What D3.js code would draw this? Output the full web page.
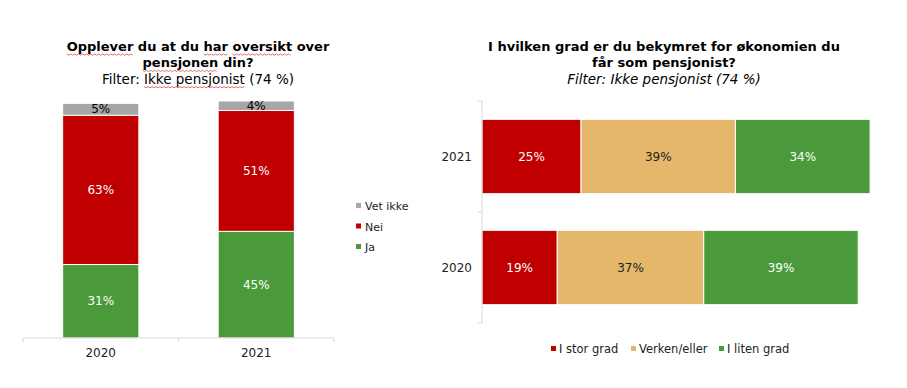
<!DOCTYPE html>
<html>
<head>
<meta charset="utf-8">
<script src="https://cdn.jsdelivr.net/npm/d3@7"></script>
<style>
  body { margin: 0; background: #fff; }
  text { font-family: "DejaVu Sans", Verdana, sans-serif; }
</style>
</head>
<body>
<svg id="graph" width="907" height="388"></svg>
<script>
// left chart: Opplever du at du har oversikt
var years1 = ["2020", "2021"];
var series1 = ["Ja", "Nei", "Vet ikke"];
var ja = [31, 45];
var nei = [63, 51];
var vetIkke = [5, 4];

// right chart: bekymret for økonomien
var years2 = ["2021", "2020"];
var series2 = ["I stor grad", "Verken/eller", "I liten grad"];
var storGrad = [25, 19];
var verken = [39, 37];
var litenGrad = [34, 39];

var colors1 = {"Ja": "#4a9a3c", "Nei": "#c00000", "Vet ikke": "#a6a6a6"};
var colors2 = {"I stor grad": "#c00000", "Verken/eller": "#e4b76b", "I liten grad": "#4a9a3c"};

var svg = d3.select("svg");

// ---- titles
function title(x, lines, squiggles) {
    lines.forEach(function(l, i) {
        var ty = 51 + i * 16.3;
        var t = svg.append("text")
            .attr("x", x)
            .attr("y", ty)
            .attr("text-anchor", "middle")
            .style("font-size", l.bold ? "13px" : "13.5px")
            .style("font-weight", l.bold ? "bold" : "normal")
            .style("font-style", l.italic ? "italic" : "normal")
            .style("fill", "#000")
            .text(l.text);
        // red spell check underline
        (squiggles && squiggles[i] || []).forEach(function(w) {
            var node = t.node();
            var idx = l.text.indexOf(w);
            var total = node.getComputedTextLength();
            var x0 = x - total / 2 + (idx > 0 ? node.getSubStringLength(0, idx) : 0);
            var wl = node.getSubStringLength(idx, w.length);
            var pts = [];
            for (var k = 0; k <= Math.floor(wl / 2); k++) {
                pts.push([x0 + k * 2, ty + 3 + (k % 2 ? 1.2 : 0)]);
            }
            svg.append("path")
                .attr("d", d3.line()(pts))
                .attr("fill", "none")
                .attr("stroke", "#e04848")
                .attr("stroke-width", 0.8);
        });
    });
}

title(198, [
    {text: "Opplever du at du har oversikt over", bold: true},
    {text: "pensjonen din?", bold: true},
    {text: "Filter: Ikke pensjonist (74 %)"}
], [["Opplever", "har", "oversikt"], ["pensjonen"], ["Ikke pensjonist"]]);

title(664, [
    {text: "I hvilken grad er du bekymret for økonomien du", bold: true},
    {text: "får som pensjonist?", bold: true},
    {text: "Filter: Ikke pensjonist (74 %)", italic: true}
]);

// ---- left chart (vertical stacked)
var rows1 = years1.map(function(y, i) {
    return {year: y, "Ja": ja[i], "Nei": nei[i], "Vet ikke": vetIkke[i]};
});
var stack1 = d3.stack().keys(series1)(rows1);

var x1 = d3.scaleBand().domain(years1).range([23, 334]).paddingInner(0.51).paddingOuter(0.255);
var y1 = d3.scaleLinear().domain([0, 100]).range([338, 101]);

svg.append("g").selectAll("g")
    .data(stack1)
    .enter().append("g")
    .attr("fill", function(d) { return colors1[d.key]; })
    .selectAll("rect")
    .data(function(d) { return d; })
    .enter().append("rect")
    .attr("x", function(d) { return x1(d.data.year); })
    .attr("y", function(d) { return y1(d[1]); })
    .attr("width", x1.bandwidth())
    .attr("height", function(d) { return y1(d[0]) - y1(d[1]); })
    .attr("stroke", "#fff")
    .attr("stroke-width", 1);

stack1.forEach(function(s) {
    svg.append("g").selectAll("text")
        .data(s)
        .enter().append("text")
        .attr("x", function(d) { return x1(d.data.year) + x1.bandwidth() / 2; })
        .attr("y", function(d) { return (y1(d[0]) + y1(d[1])) / 2 + 4; })
        .attr("text-anchor", "middle")
        .style("font-size", "12px")
        .style("fill", s.key == "Vet ikke" ? "#000" : "#fff")
        .text(function(d) { return (d[1] - d[0]) + "%"; });
});

// x axis with category separators
var ax1 = svg.append("g").attr("transform", "translate(0,338)");
ax1.append("line").attr("x1", 23).attr("x2", 334).attr("stroke", "#d9d9d9");
[23, (23 + 334) / 2, 334].forEach(function(t) {
    ax1.append("line").attr("x1", t).attr("x2", t).attr("y1", 0).attr("y2", 4).attr("stroke", "#d9d9d9");
});
ax1.selectAll("text.lab")
    .data(years1)
    .enter().append("text")
    .attr("x", function(d) { return x1(d) + x1.bandwidth() / 2; })
    .attr("y", 19)
    .attr("text-anchor", "middle")
    .style("font-size", "12px")
    .style("fill", "#222")
    .text(function(d) { return d; });

// legend (reverse order, vertical)
var leg1 = svg.append("g").selectAll("g")
    .data(series1.slice().reverse())
    .enter().append("g")
    .attr("transform", function(d, i) { return "translate(356," + (206 + i * 20.5) + ")"; });
leg1.append("rect").attr("x", 0).attr("y", -3).attr("width", 5).attr("height", 5)
    .attr("fill", function(d) { return colors1[d]; });
leg1.append("text").attr("x", 9).attr("y", 4)
    .style("font-size", "11px").style("fill", "#222")
    .text(function(d) { return d; });

// ---- right chart (horizontal stacked)
var rows2 = years2.map(function(y, i) {
    return {year: y, "I stor grad": storGrad[i], "Verken/eller": verken[i], "I liten grad": litenGrad[i]};
});
var stack2 = d3.stack().keys(series2)(rows2);

var x2 = d3.scaleLinear().domain([0, 100]).range([482, 878]);
var y2 = d3.scaleBand().domain(years2).range([101, 323]).paddingInner(0.33).paddingOuter(0.165);

svg.append("g").selectAll("g")
    .data(stack2)
    .enter().append("g")
    .attr("fill", function(d) { return colors2[d.key]; })
    .selectAll("rect")
    .data(function(d) { return d; })
    .enter().append("rect")
    .attr("x", function(d) { return x2(d[0]); })
    .attr("y", function(d) { return y2(d.data.year); })
    .attr("width", function(d) { return x2(d[1]) - x2(d[0]); })
    .attr("height", y2.bandwidth())
    .attr("stroke", "#fff")
    .attr("stroke-width", 1);

stack2.forEach(function(s) {
    svg.append("g").selectAll("text")
        .data(s)
        .enter().append("text")
        .attr("x", function(d) { return (x2(d[0]) + x2(d[1])) / 2; })
        .attr("y", function(d) { return y2(d.data.year) + y2.bandwidth() / 2 + 4; })
        .attr("text-anchor", "middle")
        .style("font-size", "12px")
        .style("fill", s.key == "Verken/eller" ? "#222" : "#fff")
        .text(function(d) { return (d[1] - d[0]) + "%"; });
});

var ax2 = svg.append("g");
ax2.append("line").attr("x1", 482).attr("x2", 482).attr("y1", 101).attr("y2", 323).attr("stroke", "#d9d9d9");
[101, 212, 323].forEach(function(t) {
    ax2.append("line").attr("x1", 478).attr("x2", 482).attr("y1", t).attr("y2", t).attr("stroke", "#d9d9d9");
});
ax2.selectAll("text")
    .data(years2)
    .enter().append("text")
    .attr("x", 472)
    .attr("y", function(d) { return y2(d) + y2.bandwidth() / 2 + 4; })
    .attr("text-anchor", "end")
    .style("font-size", "12px")
    .style("fill", "#222")
    .text(function(d) { return d; });

// bottom legend
var legX = [551, 631, 719];
var leg2 = svg.append("g").selectAll("g")
    .data(series2)
    .enter().append("g")
    .attr("transform", function(d, i) { return "translate(" + legX[i] + ",349)"; });
leg2.append("rect").attr("x", 0).attr("y", -3).attr("width", 5).attr("height", 5)
    .attr("fill", function(d) { return colors2[d]; });
leg2.append("text").attr("x", 8).attr("y", 4)
    .style("font-size", "11.5px").style("fill", "#222")
    .text(function(d) { return d; });
</script>
</body>
</html>
